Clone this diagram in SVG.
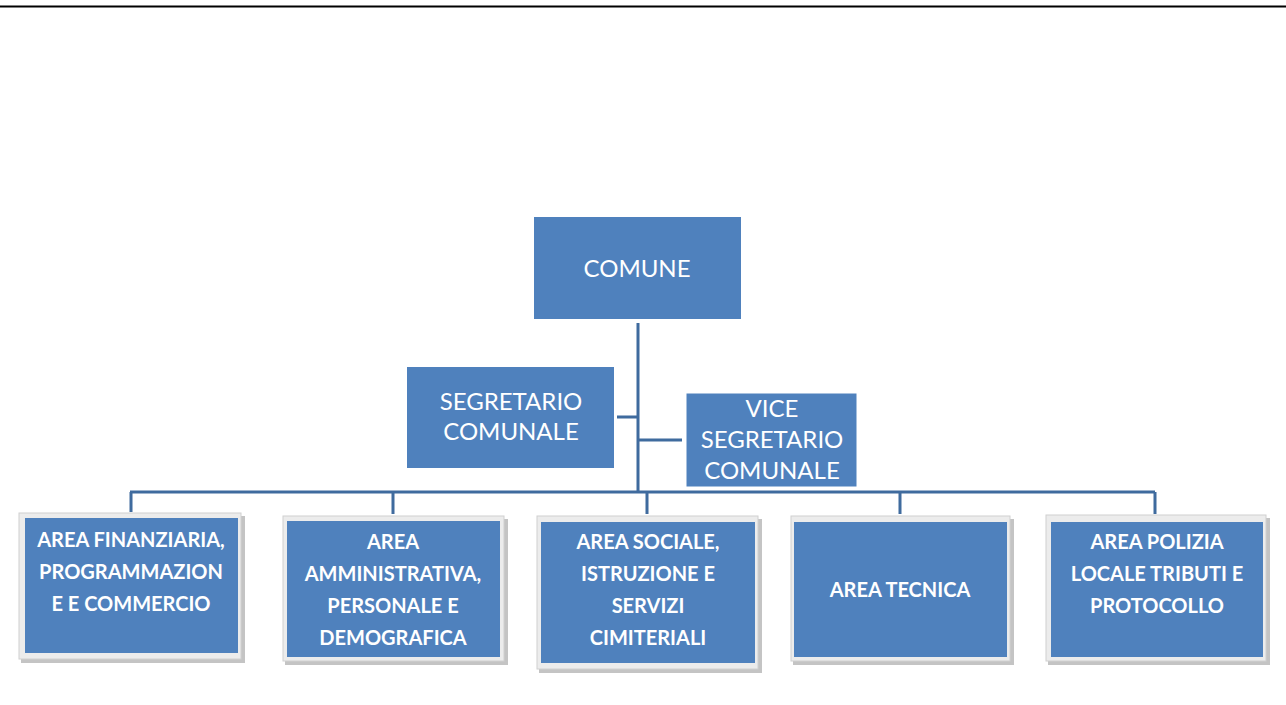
<svg xmlns="http://www.w3.org/2000/svg" width="1286" height="705" viewBox="0 0 1286 705">
<style>
.blue{fill:#4F81BD}
.conn{stroke:#3F6B9E;stroke-width:3;fill:none}
.t{font-family:Lato,"Open Sans","Liberation Sans",sans-serif;fill:#fff;text-anchor:middle}
.top{font-size:24px}
.b{font-size:20px;font-weight:bold}
.shadow{fill:#c4c4c4}
.frame{fill:#ececec;stroke:#d0d0d0;stroke-width:1}
</style>
<rect width="1286" height="705" fill="#fff"/>
<line x1="0" y1="6.5" x2="1286" y2="6.5" stroke="#000" stroke-width="2"/>
<g id="connectors">
<path class="conn" d="M638 323V492M617 417H638M638 440H682M130 492H1155M131 492V512M393 492V514M647 492V514M900 492V514M1155 492V514"/>
</g>
<g id="comune">
<rect class="blue" x="534" y="217" width="207" height="102"/>
<text class="t top" x="637" y="277">COMUNE</text>
</g>
<g id="segretario">
<rect class="blue" x="407" y="367" width="207" height="101"/>
<text class="t top" x="511" y="410">SEGRETARIO</text>
<text class="t top" x="511" y="440">COMUNALE</text>
</g>
<g id="vice">
<rect class="blue" x="685" y="392" width="173" height="96" stroke="#fff" stroke-width="3"/>
<text class="t top" x="772" y="417">VICE</text>
<text class="t top" x="772" y="448">SEGRETARIO</text>
<text class="t top" x="772" y="479">COMUNALE</text>
</g>
<g id="area1">
<rect class="shadow" x="21" y="516" width="224" height="147"/>
<rect class="frame" x="19" y="513" width="222" height="146"/>
<rect class="blue" x="25" y="518" width="213" height="135"/>
<text class="t b" x="131" y="547">AREA FINANZIARIA,</text>
<text class="t b" x="131" y="579">PROGRAMMAZION</text>
<text class="t b" x="131" y="611">E E COMMERCIO</text>
</g>
<g id="area2">
<rect class="shadow" x="285" y="519" width="223" height="146"/>
<rect class="frame" x="283" y="516" width="221" height="145"/>
<rect class="blue" x="287" y="521" width="213" height="136"/>
<text class="t b" x="393" y="549">AREA</text>
<text class="t b" x="393" y="581">AMMINISTRATIVA,</text>
<text class="t b" x="393" y="613">PERSONALE E</text>
<text class="t b" x="393" y="645">DEMOGRAFICA</text>
</g>
<g id="area3">
<rect class="shadow" x="539" y="519" width="223" height="154"/>
<rect class="frame" x="537" y="516" width="221" height="153"/>
<rect class="blue" x="541" y="522" width="214" height="141"/>
<text class="t b" x="648" y="549">AREA SOCIALE,</text>
<text class="t b" x="648" y="581">ISTRUZIONE E</text>
<text class="t b" x="648" y="613">SERVIZI</text>
<text class="t b" x="648" y="645">CIMITERIALI</text>
</g>
<g id="area4">
<rect class="shadow" x="793" y="519" width="221" height="146"/>
<rect class="frame" x="791" y="516" width="219" height="145"/>
<rect class="blue" x="794" y="522" width="213" height="135"/>
<text class="t b" x="900" y="597">AREA TECNICA</text>
</g>
<g id="area5">
<rect class="shadow" x="1048" y="518" width="222" height="147"/>
<rect class="frame" x="1046" y="515" width="220" height="146"/>
<rect class="blue" x="1051" y="522" width="212" height="135"/>
<text class="t b" x="1157" y="549">AREA POLIZIA</text>
<text class="t b" x="1157" y="581">LOCALE TRIBUTI E</text>
<text class="t b" x="1157" y="613">PROTOCOLLO</text>
</g>
</svg>
